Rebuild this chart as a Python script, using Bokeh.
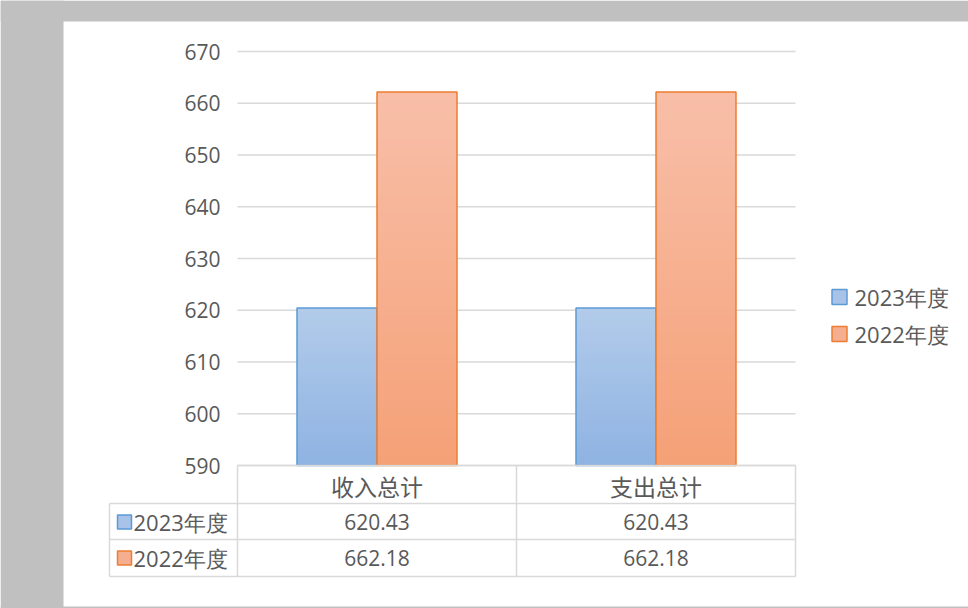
from bokeh.plotting import figure
from bokeh.models import Range1d
from bokeh.core.properties import value
from bokeh.embed import file_html
from bokeh.resources import INLINE

# ---- data ----
categories = ["收入总计", "支出总计"]
series_names = ["2023年度", "2022年度"]
values_2023 = [620.43, 620.43]
values_2022 = [662.18, 662.18]
y_ticks = [590, 600, 610, 620, 630, 640, 650, 660, 670]

# ---- styles ----
TEXT = "#595959"
GRID = "#d9d9d9"
BLUE_LINE = "#5b9bd5"
ORANGE_LINE = "#ed7d31"
BLUE_TOP, BLUE_BOT = (0xb2, 0xcb, 0xea), (0x8f, 0xb3, 0xe2)
ORANGE_TOP, ORANGE_BOT = (0xf8, 0xbe, 0xa8), (0xf5, 0xa1, 0x77)
BG_GRAY = "#c0c0c0"

W, H = 968, 608
OX, OY = 0, 0
PX_PER_UNIT = (465 - 51) / 80.0
PX_PER_CAT = 279.0
ymin = y_ticks[0]
y_end = ymin + (465 - OY) / PX_PER_UNIT
y_start = ymin - (OY + H - 465) / PX_PER_UNIT
x_start = -(376.5 - OX) / PX_PER_CAT
x_end = x_start + W / PX_PER_CAT


def px2x(px):
    return x_start + (px - OX) / PX_PER_CAT


def py2y(py):
    return y_end - (py - OY) / PX_PER_UNIT


p = figure(width=W, height=H, output_backend="svg", toolbar_location=None,
           x_range=Range1d(x_start, x_end), y_range=Range1d(y_start, y_end),
           min_border=0, min_border_left=0, min_border_right=0,
           min_border_top=0, min_border_bottom=0)
p.axis.visible = False
p.grid.visible = False
p.outline_line_color = None
p.background_fill_color = "white"
p.border_fill_color = "white"

# gray window border (top, left, bottom strip)
p.quad(left=[x_start, x_start, x_start], right=[px2x(63), x_end, x_end],
       bottom=[y_start, py2y(21), y_start], top=[y_end, y_end, py2y(606)],
       fill_color=BG_GRAY, line_color=None)

# gridlines
cat_x = list(range(len(categories)))
gx0, gx1 = cat_x[0] - 0.5, cat_x[-1] + 0.5
p.segment(x0=[gx0] * len(y_ticks), x1=[gx1] * len(y_ticks), y0=y_ticks, y1=y_ticks,
          line_color=GRID, line_width=1.5)
# tick labels
p.text(x=[px2x(220)] * len(y_ticks), y=y_ticks, text=[str(t) for t in y_ticks],
       text_font=value("Open Sans"), text_font_size="21px", text_color=TEXT,
       text_align="right", text_baseline="middle")

# bars with vertical gradient
bar_w = 80 / PX_PER_CAT
N = 40


def lerp(c0, c1, t):
    return "#%02x%02x%02x" % tuple(int(round(a + (b - a) * t)) for a, b in zip(c0, c1))


for vals, offset, ctop, cbot, lc in [
    (values_2023, -bar_w / 2, BLUE_TOP, BLUE_BOT, BLUE_LINE),
    (values_2022, bar_w / 2, ORANGE_TOP, ORANGE_BOT, ORANGE_LINE),
]:
    xs, tops, cols = [], [], []
    for cx, v in zip(cat_x, vals):
        step = (v - ymin) / N
        for i in range(N):
            xs.append(cx + offset)
            tops.append(v - i * step)
            cols.append(lerp(ctop, cbot, i / (N - 1)))
    p.vbar(x=xs, width=bar_w, bottom=ymin, top=tops, fill_color=cols, line_color=None)
    p.vbar(x=[cx + offset for cx in cat_x], width=bar_w, bottom=ymin, top=vals,
           fill_color=None, line_color=lc, line_width=1.5)

# data table
row_lines_py = [465, 503, 539, 576]
left_px = 109
h_x0 = [gx0, px2x(left_px), px2x(left_px), px2x(left_px)]
h_y = [py2y(v) for v in row_lines_py]
p.segment(x0=h_x0, x1=[gx1] * 4, y0=h_y, y1=h_y, line_color=GRID, line_width=1.5)
v_x = [px2x(left_px), gx0, gx0 + 1, gx1]
v_top = [py2y(503), py2y(465), py2y(465), py2y(465)]
p.segment(x0=v_x, x1=v_x, y0=v_top, y1=[py2y(576)] * 4, line_color=GRID, line_width=1.5)

p.text(x=cat_x, y=[py2y(485)] * len(cat_x), text=categories,
       text_font=value("Noto Sans CJK SC"), text_font_size="23px", text_color=TEXT,
       text_align="center", text_baseline="middle")
row_y = [py2y(521.5), py2y(557.5)]
for ry, vals in zip(row_y, [values_2023, values_2022]):
    p.text(x=cat_x, y=[ry] * len(cat_x), text=["%.2f" % v for v in vals],
           text_font=value("Open Sans"), text_font_size="21px", text_color=TEXT,
           text_align="center", text_baseline="middle")

key_fill = ["#a8c3e7", "#f6ae91"]
key_line = [BLUE_LINE, ORANGE_LINE]
p.scatter(x=[px2x(124)] * 2, y=row_y, marker="square", size=14,
          fill_color=key_fill, line_color=key_line, line_width=1.5)
p.text(x=[px2x(133)] * 2, y=row_y, text=series_names,
       text_font=value("Open Sans"), text_font_size="22px", text_color=TEXT,
       text_align="left", text_baseline="middle")

# legend
leg_y = [py2y(296.5), py2y(333.5)]
p.scatter(x=[px2x(839)] * 2, y=leg_y, marker="square", size=15,
          fill_color=key_fill, line_color=key_line, line_width=1.5)
p.text(x=[px2x(854)] * 2, y=leg_y, text=series_names,
       text_font=value("Open Sans"), text_font_size="22px", text_color=TEXT,
       text_align="left", text_baseline="middle")

html = file_html(p, INLINE)
open("out.html", "w").write(html)
